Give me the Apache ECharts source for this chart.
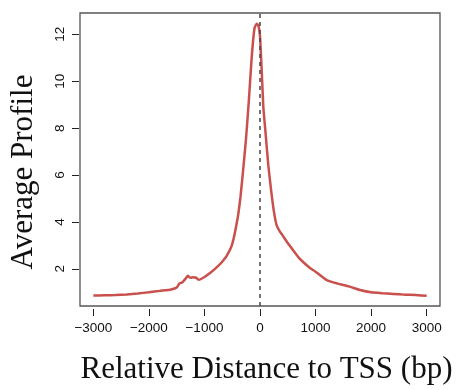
<!DOCTYPE html>
<html>
<head>
<meta charset="utf-8">
<script src="https://cdn.jsdelivr.net/npm/echarts@6/dist/echarts.min.js"></script>
<style>
  html, body { margin: 0; padding: 0; background: #fff; }
  #chart { width: 464px; height: 390px; }
</style>
</head>
<body>
<div id="chart"></div>
<script>
// distance to TSS (bp) and average profile
const positions = [-3000, -2800, -2600, -2400, -2200, -2000, -1800, -1600, -1500, -1450, -1400, -1350, -1300, -1250, -1200, -1150, -1100,
  -1000, -900, -800, -700, -600, -500, -400, -350, -300, -250, -200, -150, -100, -60, -30, 0, 30, 60, 100, 150, 200, 250, 300, 350,
  400, 500, 600, 700, 800, 900, 1000, 1200, 1400, 1600, 1800, 2000, 2200, 2400, 2600, 2800, 3000];
const profile = [0.86, 0.87, 0.88, 0.91, 0.95, 1.0, 1.06, 1.12, 1.2, 1.38, 1.42, 1.55, 1.7, 1.62, 1.64, 1.62, 1.53,
  1.65, 1.82, 2.02, 2.25, 2.55, 3.05, 4.2, 5.1, 6.3, 7.6, 9.2, 11.0, 12.25, 12.45, 12.38, 11.93, 10.5, 8.9, 7.8, 6.4, 5.35, 4.45, 3.85, 3.62,
  3.45, 3.1, 2.78, 2.47, 2.24, 2.04, 1.88, 1.52, 1.37, 1.25, 1.1, 1.0, 0.96, 0.93, 0.9, 0.88, 0.85];
const xTicks = [-3000, -2000, -1000, 0, 1000, 2000, 3000];
const yTicks = [2, 4, 6, 8, 10, 12];

const chart = echarts.init(document.getElementById('chart'));
chart.setOption({
  animation: false,
  grid: {
    left: 80, right: 24, top: 13, bottom: 75,
    show: true, borderColor: '#555', borderWidth: 1.3
  },
  xAxis: {
    type: 'value',
    min: -3240, max: 3240,
    offset: 3,
    axisLine: { show: false, onZero: false },
    axisTick: { show: true, length: 7, customValues: xTicks, lineStyle: { color: '#222' } },
    splitLine: { show: false },
    axisLabel: {
      customValues: xTicks, margin: 12,
      fontFamily: 'Liberation Sans', fontSize: 13.5, color: '#111',
      formatter: v => String(v).replace('-', '\u2212')
    },
    name: 'Relative Distance to TSS (bp)',
    nameLocation: 'middle', nameGap: 45,
    nameTextStyle: { fontFamily: 'Liberation Serif', fontSize: 31, color: '#111', padding: [0, 0, 0, 13] }
  },
  yAxis: {
    type: 'value',
    min: 0.415, max: 12.91,
    offset: 1,
    axisLine: { show: false, onZero: false },
    axisTick: { show: true, length: 7, customValues: yTicks, lineStyle: { color: '#222' } },
    splitLine: { show: false },
    axisLabel: {
      customValues: yTicks, rotate: 90, margin: 12,
      fontFamily: 'Liberation Sans', fontSize: 13.5, color: '#111'
    },
    name: 'Average Profile',
    nameLocation: 'middle', nameGap: 40,
    nameTextStyle: { fontFamily: 'Liberation Serif', fontSize: 31, color: '#111', padding: [0, 25, 0, 0] }
  },
  series: [{
    type: 'line',
    data: positions.map((p, i) => [p, profile[i]]),
    smooth: 0.15,
    showSymbol: false,
    lineStyle: { color: '#c9504c', width: 2.5 },
    markLine: {
      silent: true,
      symbol: 'none',
      label: { show: false },
      lineStyle: { color: '#444', type: [4, 4], width: 1.5 },
      data: [{ xAxis: 0 }]
    }
  }]
});
</script>
</body>
</html>
